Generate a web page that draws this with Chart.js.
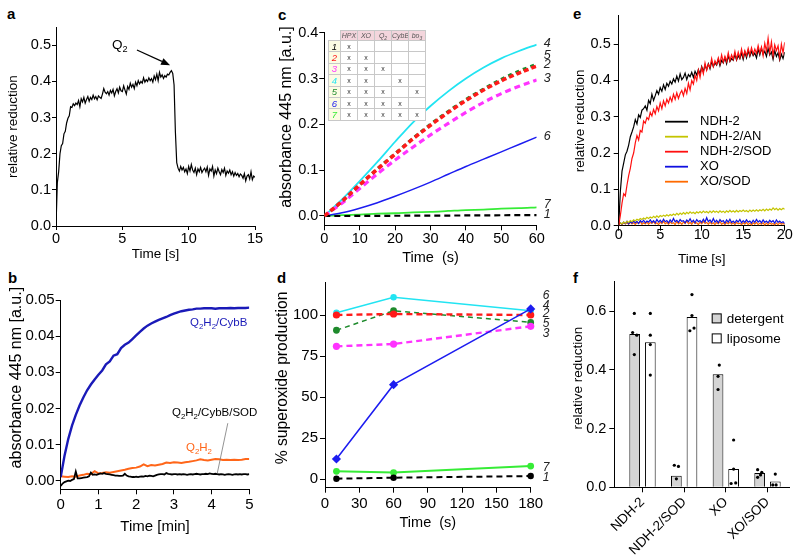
<!DOCTYPE html>
<html><head><meta charset="utf-8">
<script src="https://cdn.jsdelivr.net/npm/chart.js"></script>
<style>
html,body{margin:0;padding:0;background:#fff;width:800px;height:560px;overflow:hidden;}
body{position:relative;font-family:'Liberation Sans',Arial,sans-serif;}
canvas{position:absolute;}
.pl{position:absolute;font-weight:bold;font-size:15px;line-height:15px;color:#000;}
#tbl{position:absolute;left:328px;top:30px;width:97px;height:90px;border-collapse:collapse;table-layout:fixed;font-family:'Liberation Sans',Arial,sans-serif;}
#tbl td{border:1px solid #c8c8c8;padding:0;text-align:center;vertical-align:middle;font-size:7px;line-height:7px;color:#333;background:#fff;overflow:hidden;}
#tbl tr.h td{background:#f3d5dc;font-style:italic;color:#555;font-size:7px;}
#tbl tr.h td.c0{background:#fff;border-top:none;border-left:none;}
#tbl td.n{background:#fcfce4;font-style:italic;font-size:9.5px;}
#tbl sub{font-size:5px;line-height:0;}
</style>
</head><body>
<div class="pl" style="left:7px;top:6px">a</div>
<div class="pl" style="left:8px;top:270px">b</div>
<div class="pl" style="left:278px;top:7px">c</div>
<div class="pl" style="left:277px;top:270px">d</div>
<div class="pl" style="left:573px;top:6px">e</div>
<div class="pl" style="left:573px;top:270px">f</div>
<canvas id="ca"></canvas><canvas id="cb"></canvas><canvas id="cc"></canvas>
<canvas id="cd"></canvas><canvas id="ce"></canvas><canvas id="cf"></canvas>
<table id="tbl"></table>
<script>
// ---------------- DATA ----------------
// Panel a: relative reduction, sampled every 0.1 s from 0 to 15 s
const aStep = 0.1;
const aValues = [
0.000,0.120,0.150,0.200,0.222,0.228,0.255,0.262,0.285,0.298,
0.305,0.330,0.328,0.338,0.333,0.340,0.336,0.347,0.330,0.352,
0.343,0.356,0.340,0.350,0.358,0.345,0.356,0.350,0.362,0.352,
0.358,0.349,0.360,0.356,0.353,0.365,0.380,0.370,0.366,0.372,
0.362,0.375,0.368,0.378,0.360,0.372,0.380,0.368,0.384,0.374,
0.372,0.388,0.376,0.365,0.386,0.378,0.395,0.384,0.392,0.380,
0.398,0.388,0.402,0.393,0.400,0.395,0.410,0.398,0.405,0.400,
0.410,0.402,0.408,0.398,0.415,0.405,0.420,0.402,0.425,0.412,
0.418,0.408,0.416,0.412,0.420,0.418,0.425,0.430,0.422,0.390,
0.260,0.175,0.160,0.152,0.165,0.155,0.162,0.150,0.158,0.145,
0.165,0.152,0.170,0.155,0.148,0.160,0.142,0.158,0.150,0.162,
0.148,0.155,0.160,0.150,0.163,0.140,0.158,0.152,0.165,0.138,
0.155,0.145,0.160,0.150,0.142,0.156,0.148,0.160,0.140,0.152,
0.146,0.155,0.142,0.150,0.138,0.148,0.140,0.145,0.136,0.144,
0.140,0.132,0.145,0.125,0.138,0.142,0.130,0.150,0.128,0.138,
0.135];
const aTicksX = [0, 5, 10, 15];
const aTicksY = [0, 0.1, 0.2, 0.3, 0.4, 0.5];
const aLabelPos = [4.22, 0.50];
const aArrow = [6.1, 0.487, 8.6, 0.445];

// Panel b: absorbance 445 nm vs time [min]
const bBlueStep = 0.1;
const bBlue = [
0.0010,0.0068,0.0115,0.0152,0.0182,0.0208,0.0230,0.0250,0.0266,0.0280,
0.0293,0.0305,0.0322,0.0330,0.0346,0.0350,0.0367,0.0376,0.0382,0.0392,
0.0402,0.0412,0.0421,0.0429,0.0435,0.0440,0.0445,0.0449,0.0453,0.0458,
0.0462,0.0466,0.0469,0.0471,0.0473,0.0474,0.0476,0.0476,0.0477,0.0477,
0.0477,0.0476,0.0477,0.0477,0.0477,0.0478,0.0477,0.0478,0.0478,0.0478,
0.0479];
const bOrangeStep = 0.1;
const bOrange = [
0.0012,0.0011,0.0010,0.0012,0.0011,0.0014,0.0016,0.0019,0.0018,0.0026,
0.0020,0.0021,0.0023,0.0022,0.0024,0.0026,0.0028,0.0030,0.0033,0.0035,
0.0036,0.0039,0.0045,0.0040,0.0043,0.0042,0.0044,0.0046,0.0050,0.0049,
0.0051,0.0050,0.0049,0.0051,0.0052,0.0054,0.0056,0.0059,0.0057,0.0056,
0.0058,0.0060,0.0059,0.0057,0.0058,0.0057,0.0058,0.0057,0.0058,0.0060,
0.0060];
const bBlackStep = 0.05;
const bBlack = [
-0.0015,-0.0008,-0.0004,-0.0002,0.0000,-0.0001,0.0002,0.0004,0.0025,0.0006,
0.0006,0.0007,0.0008,0.0009,0.0010,0.0012,0.0022,0.0016,0.0017,0.0016,
0.0018,0.0020,0.0019,0.0021,0.0019,0.0018,0.0017,0.0016,0.0015,0.0014,
0.0014,0.0013,0.0013,0.0014,0.0019,0.0014,0.0012,0.0011,0.0010,0.0010,
0.0011,0.0010,0.0011,0.0012,0.0011,0.0013,0.0012,0.0014,0.0013,0.0012,
0.0014,0.0016,0.0017,0.0018,0.0018,0.0017,0.0021,0.0019,0.0018,0.0017,
0.0018,0.0018,0.0017,0.0018,0.0017,0.0018,0.0017,0.0016,0.0017,0.0018,
0.0017,0.0018,0.0019,0.0018,0.0017,0.0018,0.0018,0.0019,0.0018,0.0020,
0.0019,0.0018,0.0019,0.0018,0.0017,0.0018,0.0017,0.0016,0.0017,0.0018,
0.0017,0.0016,0.0017,0.0018,0.0017,0.0018,0.0017,0.0018,0.0018,0.0017,
0.0018];
const bTicksX = [0, 1, 2, 3, 4, 5];
const bTicksY = [0, 0.01, 0.02, 0.03, 0.04, 0.05];
const bLabelCybB = [3.43, 0.0436];
const bLabelSOD = [2.95, 0.0187];
const bLabelQ2H2 = [3.32, 0.0090];
const bLeader = [4.43, 0.0159, 4.15, 0.0020];

// Panel c: absorbance 445 nm, every 5 s
const cTime = [0, 5, 10, 15, 20, 25, 30, 35, 40, 45, 50, 55, 60];
const c1 = [0, 0, 0.0001, 0.0003, 0.0005, 0.0007, 0.0009, 0.0010, 0.0012, 0.0014, 0.0016, 0.0018, 0.0020];
const c2 = [0, 0.032, 0.068, 0.102, 0.135, 0.168, 0.198, 0.226, 0.252, 0.275, 0.295, 0.312, 0.327];
const c3 = [0, 0.028, 0.060, 0.092, 0.122, 0.150, 0.177, 0.202, 0.226, 0.248, 0.267, 0.283, 0.297];
const c4 = [0, 0.036, 0.076, 0.118, 0.162, 0.204, 0.240, 0.272, 0.300, 0.324, 0.344, 0.360, 0.374];
const c5 = [0, 0.032, 0.068, 0.103, 0.136, 0.169, 0.200, 0.228, 0.254, 0.277, 0.298, 0.316, 0.331];
const c6 = [0, 0.007, 0.017, 0.029, 0.043, 0.058, 0.074, 0.091, 0.108, 0.124, 0.140, 0.156, 0.172];
const c7 = [0, 0.002, 0.003, 0.005, 0.006, 0.008, 0.009, 0.011, 0.013, 0.014, 0.016, 0.017, 0.019];
const sampleNames = ['1', '2', '3', '4', '5', '6', '7'];
const cTicksX = [0, 10, 20, 30, 40, 50, 60];
const cTicksY = [0, 0.1, 0.2, 0.3, 0.4];
const tableCols = ['HPX', 'XO', 'Q|2', 'CybB', 'bo|3'];
const tableMarks = [
[1,0,0,0,0],
[1,1,0,0,0],
[1,1,1,0,0],
[1,1,0,1,0],
[1,1,1,0,1],
[1,1,1,1,0],
[1,1,1,1,1]];

// Panel d: % superoxide production
const dTime = [10, 60, 180];
const d1 = [0.2, 0.8, 1.8];
const d2 = [100, 100.6, 100];
const d3 = [80.9, 82.3, 93.1];
const d4 = [101.4, 110.8, 102.6];
const d5 = [90.7, 102.6, 95.5];
const d6 = [12.2, 57.5, 103.7];
const d7 = [4.7, 3.9, 7.9];
const dTicksX = [0, 30, 60, 90, 120, 150, 180];
const dTicksY = [0, 25, 50, 75, 100];

// Panel e: relative reduction, every 0.2 s from 0 to 20 s
const eStep = 0.2;
const eNDH2 = [
0.000,0.095,0.150,0.172,0.195,0.205,0.222,0.245,0.258,0.272,
0.292,0.280,0.305,0.298,0.318,0.322,0.330,0.318,0.345,0.336,
0.362,0.345,0.358,0.372,0.362,0.380,0.370,0.388,0.375,0.392,
0.384,0.398,0.390,0.404,0.395,0.412,0.398,0.418,0.402,0.408,
0.420,0.402,0.416,0.410,0.422,0.408,0.425,0.415,0.430,0.418,
0.438,0.424,0.442,0.430,0.446,0.432,0.452,0.438,0.448,0.442,
0.458,0.440,0.455,0.448,0.462,0.446,0.468,0.452,0.460,0.455,
0.472,0.456,0.468,0.460,0.476,0.458,0.478,0.462,0.482,0.466,
0.480,0.468,0.475,0.462,0.486,0.470,0.488,0.472,0.480,0.466,
0.488,0.470,0.478,0.458,0.482,0.466,0.476,0.456,0.472,0.460,
0.478];
const eNDH2AN = [
0.003,0.008,0.005,0.010,0.007,0.012,0.009,0.014,0.011,0.016,
0.013,0.018,0.015,0.020,0.017,0.021,0.018,0.023,0.020,0.024,
0.021,0.026,0.022,0.027,0.023,0.028,0.025,0.029,0.026,0.030,
0.027,0.031,0.028,0.032,0.029,0.034,0.030,0.035,0.031,0.036,
0.032,0.037,0.033,0.038,0.034,0.037,0.033,0.038,0.035,0.039,
0.035,0.040,0.036,0.039,0.035,0.040,0.036,0.041,0.037,0.040,
0.036,0.041,0.037,0.040,0.036,0.041,0.037,0.042,0.038,0.041,
0.037,0.042,0.038,0.042,0.039,0.043,0.039,0.042,0.038,0.043,
0.039,0.043,0.040,0.044,0.040,0.044,0.041,0.045,0.041,0.046,
0.042,0.046,0.043,0.049,0.044,0.048,0.043,0.047,0.044,0.048,
0.045];
const eNDH2SOD = [
0.000,0.028,0.062,0.088,0.082,0.112,0.138,0.158,0.185,0.200,
0.228,0.248,0.236,0.262,0.258,0.288,0.282,0.298,0.292,0.312,
0.302,0.320,0.308,0.328,0.316,0.338,0.322,0.344,0.330,0.348,
0.338,0.354,0.342,0.362,0.348,0.366,0.350,0.364,0.372,0.358,
0.378,0.364,0.392,0.374,0.400,0.390,0.414,0.400,0.428,0.408,
0.435,0.418,0.448,0.428,0.444,0.436,0.460,0.438,0.454,0.444,
0.462,0.446,0.470,0.450,0.466,0.452,0.476,0.454,0.470,0.458,
0.480,0.458,0.478,0.462,0.486,0.464,0.482,0.468,0.488,0.470,
0.490,0.472,0.486,0.474,0.496,0.476,0.492,0.468,0.502,0.480,
0.516,0.476,0.506,0.468,0.498,0.482,0.495,0.462,0.500,0.476,
0.505];
const eXO = [
0.002,0.008,0.004,0.010,0.006,0.012,0.005,0.011,0.007,0.013,
0.008,0.012,0.006,0.014,0.009,0.015,0.008,0.013,0.010,0.016,
0.009,0.014,0.008,0.017,0.010,0.015,0.009,0.018,0.011,0.014,
0.008,0.016,0.010,0.020,0.011,0.015,0.009,0.017,0.012,0.014,
0.008,0.016,0.011,0.019,0.010,0.015,0.008,0.017,0.011,0.014,
0.009,0.018,0.010,0.022,0.011,0.016,0.009,0.020,0.010,0.015,
0.008,0.017,0.011,0.014,0.007,0.016,0.010,0.018,0.009,0.013,
0.008,0.015,0.010,0.017,0.008,0.014,0.009,0.016,0.010,0.013,
0.007,0.015,0.009,0.017,0.010,0.014,0.008,0.016,0.009,0.013,
0.008,0.015,0.010,0.014,0.007,0.016,0.009,0.013,0.008,0.011,
0.006];
const eXOSOD = [
0.004,0.007,0.003,0.009,0.005,0.008,0.004,0.010,0.005,0.008,
0.003,0.009,0.006,0.011,0.004,0.008,0.005,0.010,0.004,0.009,
0.006,0.011,0.005,0.008,0.003,0.010,0.006,0.012,0.005,0.009,
0.004,0.010,0.006,0.008,0.003,0.011,0.005,0.009,0.004,0.010,
0.006,0.013,0.005,0.009,0.004,0.011,0.006,0.008,0.003,0.010,
0.005,0.012,0.006,0.009,0.004,0.010,0.005,0.008,0.003,0.009,
0.005,0.011,0.004,0.008,0.003,0.009,0.005,0.010,0.004,0.008,
0.003,0.009,0.005,0.007,0.003,0.008,0.004,0.009,0.003,0.007,
0.002,0.008,0.004,0.009,0.003,0.007,0.004,0.008,0.002,0.007,
0.003,0.008,0.004,0.006,0.002,0.007,0.003,0.008,0.004,0.006,
0.003];
const eLabels = ['NDH-2', 'NDH-2/AN', 'NDH-2/SOD', 'XO', 'XO/SOD'];
const eTicksX = [0, 5, 10, 15, 20];
const eTicksY = [0, 0.1, 0.2, 0.3, 0.4, 0.5];

// Panel f: relative reduction bars + replicate points
const fCategories = ['NDH-2', 'NDH-2/SOD', 'XO', 'XO/SOD'];
const fDetergent = [0.522, 0.039, 0.385, 0.049];
const fLiposome = [0.494, 0.580, 0.062, 0.020];
const fDetergentDots = [[0.592, 0.527, 0.518, 0.452], [0.075, 0.071, 0.029], [0.416, 0.378, 0.333], [0.060, 0.051, 0.042, 0.034]];
const fLiposomeDots = [[0.592, 0.518, 0.486, 0.382], [0.656, 0.585, 0.533, 0.542], [0.161, 0.062, 0.013, 0.015], [0.045, 0.008, 0.008]];
const fTicksY = [0, 0.2, 0.4, 0.6];
const fSeriesNames = ['detergent', 'liposome'];

// ---------------- STYLE ----------------
const FONT = "'Liberation Sans', Arial, sans-serif";
const cColors = ['#000000', '#ff1a1a', '#ff33ff', '#22e4f2', '#1e8a2c', '#1c1cf0', '#36ec36'];
const cDashes = [[6, 4], [5, 3], [6, 4], [], [4, 4], [], []];
const cWidths = [2.2, 3.5, 3.2, 1.8, 3.2, 1.5, 1.8];
const cOrder = [2, 0, 2, 2, 1, 2, 2];
const cLabelDy = [-0.3, -1.7, -1.2, -1.2, -9.1, -0.2, -2.8];
const dColors = ['#000000', '#ff1a1a', '#ff33ff', '#22e4f2', '#1e8a2c', '#1c1cf0', '#36ec36'];
const dDashes = [[6, 4], [6, 4], [6, 4], [], [5, 4], [], []];
const dWidths = [2, 2.4, 2.4, 1.5, 1.5, 1.5, 2];
const dRadius = [3.2, 3.6, 3.6, 3.2, 3.4, 4.6, 3.4];
const dPointStyle = ['circle', 'circle', 'circle', 'circle', 'circle', 'rectRot', 'circle'];
const dLabelDy = [1.3, -1, 7.7, -5.4, 0.9, -13.6, 1.5];
const eColors = ['#000000', '#c4c400', '#ff1010', '#1010e0', '#ff6a00'];
const eOrder = [1, 2, 0, 3, 4];
const fJitterDet = [[-0.01, -0.05, 0.05, -0.01], [-0.05, 0.05, 0], [0.03, 0, 0], [-0.05, 0.05, 0.02, -0.05]];
const fJitterLip = [[0, 0, 0, 0], [0, 0, -0.05, 0.05], [0, 0, -0.06, 0.05], [0, -0.06, 0.02]];
const fSide = 0.187;

Chart.defaults.font.family = FONT;
Chart.defaults.color = '#000';
Chart.defaults.animation = false;

function mk(id, l, t, w, h) {
  const c = document.getElementById(id);
  c.width = w; c.height = h;
  c.style.left = l + 'px'; c.style.top = t + 'px';
  c.style.width = w + 'px'; c.style.height = h + 'px';
  return c;
}
function pts(xs, ys) { return ys.map((v, i) => ({ x: xs[i], y: v })); }
function stepTimes(arr, step) { return arr.map((_, i) => Math.round(i * step * 1000) / 1000); }

function linAxis(o) {
  return {
    type: 'linear', position: o.pos, min: o.min, max: o.max, bounds: 'data', offset: false,
    afterBuildTicks: s => { s.ticks = o.ticks.map(v => ({ value: v })); },
    afterFit: s => { if (o.pos === 'left') s.width = o.fit; else s.height = o.fit; },
    grid: { display: true, drawOnChartArea: false, drawTicks: true, tickLength: o.tl, tickColor: '#000', tickWidth: 1, offset: false },
    border: { display: true, color: '#000', width: 1 },
    ticks: { color: '#000', font: { family: FONT, size: o.fs }, padding: o.pad, autoSkip: false,
      minRotation: o.rot || 0, maxRotation: o.rot || 0, callback: o.fmt },
    title: { display: !!o.title, text: o.title, color: '#000', font: { family: FONT, size: o.ts }, padding: o.tp }
  };
}
function baseOpts(pad, xAx, yAx) {
  return {
    responsive: false, animation: false, events: [],
    layout: { padding: { top: pad.top, right: pad.right, left: 0, bottom: 0 }, autoPadding: false },
    plugins: { legend: { display: false }, tooltip: { enabled: false } },
    scales: { x: xAx, y: yAx },
    elements: { point: { radius: 0 }, line: { tension: 0 } }
  };
}
// rotated y-axis title, drawn beside the axis
function yTitle(text, size, cx, dy) {
  return { id: 'yTitle', afterDraw(chart) {
    const { ctx, chartArea: ca } = chart;
    ctx.save();
    ctx.translate(cx, (ca.top + ca.bottom) / 2 + dy);
    ctx.rotate(-Math.PI / 2);
    ctx.fillStyle = '#000'; ctx.font = size + 'px ' + FONT;
    ctx.textAlign = 'center'; ctx.textBaseline = 'middle';
    ctx.fillText(text, 0, 0);
    ctx.restore();
  } };
}
function richText(ctx, parts, x, y, size, color) {
  ctx.save(); ctx.fillStyle = color; ctx.textBaseline = 'middle'; ctx.textAlign = 'left';
  let cx = x;
  parts.forEach(p => {
    const sz = p[1] ? size * 0.68 : size;
    ctx.font = sz + 'px ' + FONT;
    ctx.fillText(p[0], cx, p[1] ? y + size * 0.3 : y);
    cx += ctx.measureText(p[0]).width;
  });
  ctx.restore();
}
function arrow(ctx, x1, y1, x2, y2) {
  const a = Math.atan2(y2 - y1, x2 - x1), L = 9, W = 3.6;
  const bx = x2 - L * Math.cos(a), by = y2 - L * Math.sin(a);
  ctx.save(); ctx.strokeStyle = '#000'; ctx.fillStyle = '#000'; ctx.lineWidth = 1.2;
  ctx.beginPath(); ctx.moveTo(x1, y1); ctx.lineTo(bx, by); ctx.stroke();
  ctx.beginPath(); ctx.moveTo(x2, y2);
  ctx.lineTo(bx + W * Math.sin(a), by - W * Math.cos(a));
  ctx.lineTo(bx - W * Math.sin(a), by + W * Math.cos(a));
  ctx.closePath(); ctx.fill(); ctx.restore();
}
const f1 = v => v.toFixed(1), f2 = v => v.toFixed(2), f0 = v => String(v);

// ---------------- PANEL a ----------------
new Chart(mk('ca', 0, 0, 270, 266), {
  type: 'line',
  data: { datasets: [{ data: pts(stepTimes(aValues, aStep), aValues), borderColor: '#000', borderWidth: 1.2, pointRadius: 0 }] },
  options: baseOpts({ top: 27.2, right: 15 },
    linAxis({ pos: 'bottom', min: 0, max: 15, ticks: aTicksX, fmt: f0, fs: 14.5, tl: 4, pad: 0, fit: 40, title: 'Time [s]', ts: 13.5, tp: { top: 0, bottom: 4 } }),
    linAxis({ pos: 'left', min: 0, max: 0.55, ticks: aTicksY, fmt: f1, fs: 14.5, tl: 4, pad: 1, fit: 56 })),
  plugins: [yTitle('relative reduction', 13.5, 12.8, 0), { id: 'aAnnot', afterDatasetsDraw(chart) {
    const { ctx, scales: { x, y } } = chart;
    richText(ctx, [['Q', 0], ['2', 1]], x.getPixelForValue(aLabelPos[0]), y.getPixelForValue(aLabelPos[1]), 13.5, '#000');
    arrow(ctx, x.getPixelForValue(aArrow[0]), y.getPixelForValue(aArrow[1]), x.getPixelForValue(aArrow[2]), y.getPixelForValue(aArrow[3]));
  } }]
});

// ---------------- PANEL b ----------------
new Chart(mk('cb', 0, 270, 270, 270), {
  type: 'line',
  data: { datasets: [
    { data: pts(stepTimes(bBlack, bBlackStep), bBlack), borderColor: '#000', borderWidth: 1.8, pointRadius: 0, order: 1 },
    { data: pts(stepTimes(bOrange, bOrangeStep), bOrange), borderColor: '#ff6619', borderWidth: 2, pointRadius: 0, order: 2 },
    { data: pts(stepTimes(bBlue, bBlueStep), bBlue), borderColor: '#1a1ab8', borderWidth: 2.4, pointRadius: 0, order: 0 }
  ] },
  options: baseOpts({ top: 30, right: 20.7 },
    linAxis({ pos: 'bottom', min: 0, max: 5, ticks: bTicksX, fmt: f0, fs: 15, tl: 5, pad: 2, fit: 50.7, title: 'Time [min]', ts: 15, tp: { top: 0, bottom: 4 } }),
    linAxis({ pos: 'left', min: -0.0024, max: 0.05, ticks: bTicksY, fmt: f2, fs: 15, tl: 5, pad: 1, fit: 60.7 })),
  plugins: [yTitle('absorbance 445 nm [a.u.]', 16, 16.7, -17), { id: 'bAnnot', afterDatasetsDraw(chart) {
    const { ctx, scales: { x, y } } = chart;
    const q = [['Q', 0], ['2', 1], ['H', 0], ['2', 1]];
    richText(ctx, q.concat([['/CybB', 0]]), x.getPixelForValue(bLabelCybB[0]), y.getPixelForValue(bLabelCybB[1]), 11.5, '#1a1ab8');
    richText(ctx, q.concat([['/CybB/SOD', 0]]), x.getPixelForValue(bLabelSOD[0]), y.getPixelForValue(bLabelSOD[1]), 11.5, '#000');
    richText(ctx, q, x.getPixelForValue(bLabelQ2H2[0]), y.getPixelForValue(bLabelQ2H2[1]), 11.5, '#ff6619');
    ctx.save(); ctx.strokeStyle = '#777'; ctx.lineWidth = 0.8; ctx.beginPath();
    ctx.moveTo(x.getPixelForValue(bLeader[0]), y.getPixelForValue(bLeader[1]));
    ctx.lineTo(x.getPixelForValue(bLeader[2]), y.getPixelForValue(bLeader[3]));
    ctx.stroke(); ctx.restore();
  } }]
});

// ---------------- PANEL c ----------------
const cSeries = [c1, c2, c3, c4, c5, c6, c7];
new Chart(mk('cc', 270, 0, 290, 271), {
  type: 'line',
  data: { datasets: cSeries.map((s, i) => ({
    data: pts(cTime, s), borderColor: cColors[i], borderWidth: cWidths[i], borderDash: cDashes[i],
    pointRadius: 0, cubicInterpolationMode: 'monotone', order: cOrder[i], borderCapStyle: 'butt'
  })) },
  options: baseOpts({ top: 32.7, right: 23.3 },
    linAxis({ pos: 'bottom', min: 0, max: 60, ticks: cTicksX, fmt: f0, fs: 14.5, tl: 5, pad: 0, fit: 45.7, title: 'Time  (s)', ts: 14.5, tp: { top: 0, bottom: 4 } }),
    linAxis({ pos: 'left', min: -0.0203, max: 0.4, ticks: cTicksY, fmt: f1, fs: 14.5, tl: 5, pad: 1, fit: 54.3 })),
  plugins: [yTitle('absorbance 445 nm [a.u.]', 16, 16.7, -12), { id: 'cLab', afterDatasetsDraw(chart) {
    const { ctx, chartArea: ca, scales: { y } } = chart;
    ctx.save(); ctx.fillStyle = '#222'; ctx.font = 'italic 12.5px ' + FONT; ctx.textBaseline = 'middle';
    cSeries.forEach((s, i) => ctx.fillText(sampleNames[i], ca.right + 7, y.getPixelForValue(s[s.length - 1]) + cLabelDy[i]));
    ctx.restore();
  } }]
});

// ---------------- PANEL d ----------------
const dSeries = [d1, d2, d3, d4, d5, d6, d7];
const dDrawOrder = [1, 3, 4, 6, 5, 0, 2];
new Chart(mk('cd', 270, 270, 290, 266), {
  type: 'line',
  data: { datasets: dSeries.map((s, i) => ({
    data: pts(dTime, s), borderColor: dColors[i], backgroundColor: dColors[i], borderWidth: dWidths[i], borderDash: dDashes[i],
    pointRadius: dRadius[i], pointStyle: dPointStyle[i], pointBorderWidth: 0, pointBackgroundColor: dColors[i], clip: false, order: dDrawOrder[i]
  })) },
  options: baseOpts({ top: 12.2, right: 29.3 },
    linAxis({ pos: 'bottom', min: 0, max: 180, ticks: dTicksX, fmt: f0, fs: 15, tl: 5, pad: 2, fit: 48.3, title: 'Time  (s)', ts: 14.5, tp: { top: 0, bottom: 4 } }),
    linAxis({ pos: 'left', min: -5.3, max: 120, ticks: dTicksY, fmt: f0, fs: 15, tl: 5, pad: 2, fit: 55 })),
  plugins: [yTitle('% superoxide production', 15.7, 13, -7), { id: 'dLab', afterDatasetsDraw(chart) {
    const { ctx, chartArea: ca, scales: { y } } = chart;
    ctx.save(); ctx.fillStyle = '#222'; ctx.font = 'italic 12px ' + FONT; ctx.textBaseline = 'middle';
    dSeries.forEach((s, i) => ctx.fillText(sampleNames[i], ca.right + 12, y.getPixelForValue(s[s.length - 1]) + dLabelDy[i]));
    ctx.restore();
  } }]
});

// ---------------- PANEL e ----------------
const eSeries = [eNDH2, eNDH2AN, eNDH2SOD, eXO, eXOSOD];
new Chart(mk('ce', 560, 0, 240, 271), {
  type: 'line',
  data: { datasets: eSeries.map((s, i) => ({
    data: pts(stepTimes(s, eStep), s), borderColor: eColors[i], borderWidth: 1.2, pointRadius: 0, order: eOrder[i]
  })) },
  options: baseOpts({ top: 15, right: 15.3 },
    linAxis({ pos: 'bottom', min: 0, max: 20, ticks: eTicksX, fmt: f0, fs: 14.5, tl: 5, pad: -4, fit: 45.3, title: 'Time [s]', ts: 13.5, tp: { top: 0, bottom: 3.6 } }),
    linAxis({ pos: 'left', min: 0, max: 0.58, ticks: eTicksY, fmt: f1, fs: 14.5, tl: 5, pad: 3, fit: 58.7 })),
  plugins: [yTitle('relative reduction', 13.5, 20, 0.6), { id: 'eLeg', afterDraw(chart) {
    const { ctx, chartArea: ca } = chart;
    ctx.save();
    eLabels.forEach((lab, i) => {
      const yy = ca.top + 106.7 + i * 15;
      ctx.strokeStyle = eColors[i]; ctx.lineWidth = 1.8;
      ctx.beginPath(); ctx.moveTo(ca.left + 46.3, yy); ctx.lineTo(ca.left + 69.3, yy); ctx.stroke();
      ctx.fillStyle = '#000'; ctx.font = '13px ' + FONT; ctx.textBaseline = 'middle'; ctx.textAlign = 'left';
      ctx.fillText(lab, ca.left + 81.3, yy);
    });
    ctx.restore();
  } }]
});

// ---------------- PANEL f ----------------
function dotPts(groups, jit, side) {
  const out = [];
  groups.forEach((g, ci) => g.forEach((v, k) => out.push({ x: ci + side + jit[ci][k], y: v })));
  return out;
}
new Chart(mk('cf', 560, 270, 240, 290), {
  type: 'bar',
  data: { datasets: [
    { label: fSeriesNames[0], data: fDetergent.map((v, i) => ({ x: i, y: v })), backgroundColor: '#d4d4d4', borderColor: '#000', borderWidth: 1, barPercentage: 0.685, categoryPercentage: 0.75, order: 1 },
    { label: fSeriesNames[1], data: fLiposome.map((v, i) => ({ x: i, y: v })), backgroundColor: '#ffffff', borderColor: '#000', borderWidth: 1, barPercentage: 0.685, categoryPercentage: 0.75, order: 1 },
    { type: 'scatter', data: dotPts(fDetergentDots, fJitterDet, -fSide), pointRadius: 1.6, pointBorderWidth: 0, pointBackgroundColor: '#000', order: 0 },
    { type: 'scatter', data: dotPts(fLiposomeDots, fJitterLip, fSide), pointRadius: 1.6, pointBorderWidth: 0, pointBackgroundColor: '#000', order: 0 }
  ] },
  options: baseOpts({ top: 8.3, right: 11 },
    linAxis({ pos: 'bottom', min: -0.677, max: 3.516, ticks: [0, 1, 2, 3], fmt: v => fCategories[v], fs: 13.5, tl: 5, pad: 2, fit: 72.7, rot: 45 }),
    linAxis({ pos: 'left', min: 0, max: 0.70, ticks: fTicksY, fmt: f1, fs: 14.5, tl: 5, pad: 3, fit: 54.3 })),
  plugins: [yTitle('relative reduction', 13.5, 18, -6.3), { id: 'fLeg', afterDraw(chart) {
    const { ctx, chartArea: ca } = chart;
    const fills = ['#d4d4d4', '#ffffff'];
    ctx.save();
    fSeriesNames.forEach((n, i) => {
      const bx = ca.left + 97.4, by = ca.top + 31.7 + i * 20;
      ctx.fillStyle = fills[i]; ctx.fillRect(bx, by, 10, 10);
      ctx.strokeStyle = '#000'; ctx.lineWidth = 1; ctx.strokeRect(bx + 0.5, by + 0.5, 9, 9);
      ctx.fillStyle = '#000'; ctx.font = '13.5px ' + FONT; ctx.textBaseline = 'middle'; ctx.textAlign = 'left';
      ctx.fillText(n, bx + 15, by + 5.5);
    });
    ctx.restore();
  } }]
});

// ---------------- inset table (panel c) ----------------
(function buildTable() {
  const t = document.getElementById('tbl');
  let html = '<colgroup><col style="width:12px">' + tableCols.map(() => '<col style="width:17px">').join('') + '</colgroup>';
  const fmtHead = s => s.includes('|') ? s.split('|')[0] + '<sub>' + s.split('|')[1] + '</sub>' : s;
  html += '<tr class="h" style="height:10px"><td class="c0"></td>' + tableCols.map(c => '<td>' + fmtHead(c) + '</td>').join('') + '</tr>';
  tableMarks.forEach((r, i) => {
    html += '<tr style="height:11.4px"><td class="n" style="color:' + cColors[i] + '">' + sampleNames[i] + '</td>' +
      r.map(m => '<td>' + (m ? 'x' : '') + '</td>').join('') + '</tr>';
  });
  t.innerHTML = html;
})();
</script>
</body></html>
